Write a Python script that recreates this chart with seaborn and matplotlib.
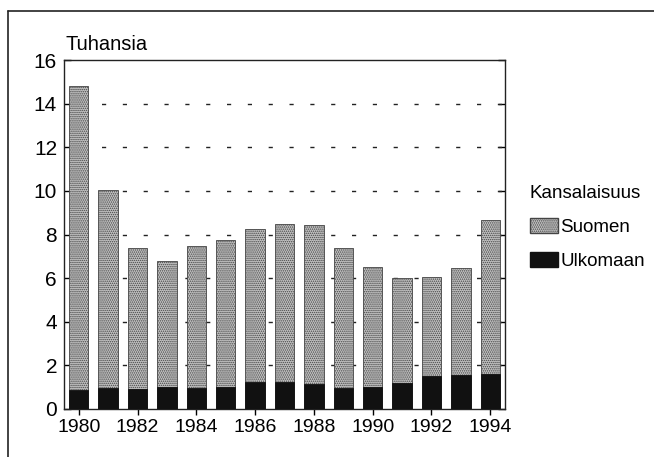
import numpy as np
import pandas as pd
import matplotlib
matplotlib.use("Agg")
import matplotlib.pyplot as plt
import seaborn as sns
from matplotlib.patches import Patch

# Data (thousands)
years = [str(y) for y in range(1980, 1995)]
totals = [14.8, 10.05, 7.4, 6.8, 7.45, 7.75, 8.25, 8.5, 8.45, 7.4, 6.5, 6.0, 6.05, 6.45, 8.65]
ulkomaan = [0.85, 0.95, 0.9, 1.0, 0.95, 1.0, 1.25, 1.25, 1.15, 0.95, 1.0, 1.18, 1.52, 1.55, 1.6]
suomen = [t - u for t, u in zip(totals, ulkomaan)]

df = pd.DataFrame({"year": years, "Suomen": suomen, "Ulkomaan": ulkomaan})
df["total"] = df["Suomen"] + df["Ulkomaan"]

sns.set_style("white")
plt.rcParams['font.family'] = ['Liberation Sans', 'DejaVu Sans']
plt.rcParams['text.color'] = 'black'
plt.rcParams['xtick.color'] = 'black'
plt.rcParams['ytick.color'] = 'black'
plt.rcParams['hatch.linewidth'] = 0.7

fig = plt.figure(figsize=(6.54, 4.57), dpi=100)
ax = fig.add_axes([64/654, 1 - 409/457, (505-64)/654, (409-60)/457])

gray = "#c2c2c2"
sns.barplot(data=df, x="year", y="total", color=gray, width=0.66, ax=ax,
            edgecolor="#444444", linewidth=0.6, saturation=1, zorder=3)
for p in ax.patches:
    p.set_hatch("........")
sns.barplot(data=df, x="year", y="Ulkomaan", color="#111111", width=0.66, ax=ax,
            edgecolor="#111111", linewidth=0.6, saturation=1, zorder=4)

ax.set_ylim(0, 16)
ax.set_xlim(-0.5, len(years) - 0.5)
ax.set_yticks(range(0, 17, 2))
ax.set_xticks(range(0, len(years), 2))
ax.set_xticklabels(years[::2])
ax.set_xlabel("")
ax.set_ylabel("")

for y in range(2, 16, 2):
    ax.axhline(y, color="#222222", lw=1.0, linestyle=(3, (3, 12)), zorder=1)

for s in ax.spines.values():
    s.set_color("#222222")
    s.set_linewidth(1.0)
ax.tick_params(axis="y", direction="in", length=5, width=1, labelsize=15,
               left=True, right=True, pad=5)
ax.tick_params(axis="x", direction="out", length=4, width=1, labelsize=14,
               bottom=True, pad=3)

fig.text(66/654, 1 - 45/457, "Tuhansia", fontsize=14.5, ha="left", va="center")

handles = [Patch(facecolor=gray, edgecolor="#444444", hatch="........", label="Suomen"),
           Patch(facecolor="#111111", edgecolor="#111111", label="Ulkomaan")]
leg = fig.legend(handles=handles, title="Kansalaisuus", loc="upper left",
                 bbox_to_anchor=(522/654, 1 - 178/457), frameon=False, fontsize=13.5,
                 title_fontsize=13.5, handlelength=1.5, handleheight=0.85,
                 handletextpad=0.15, labelspacing=0.85, borderaxespad=0)
leg._legend_box.align = "left"

# outer frame
fig.add_artist(plt.Line2D([8/654, 8/654], [0, 1 - 11/457], transform=fig.transFigure,
                          color="#222222", lw=1.2))
fig.add_artist(plt.Line2D([8/654, 1], [1 - 11/457, 1 - 11/457], transform=fig.transFigure,
                          color="#222222", lw=1.2))

fig.savefig("out.png", dpi=100)
